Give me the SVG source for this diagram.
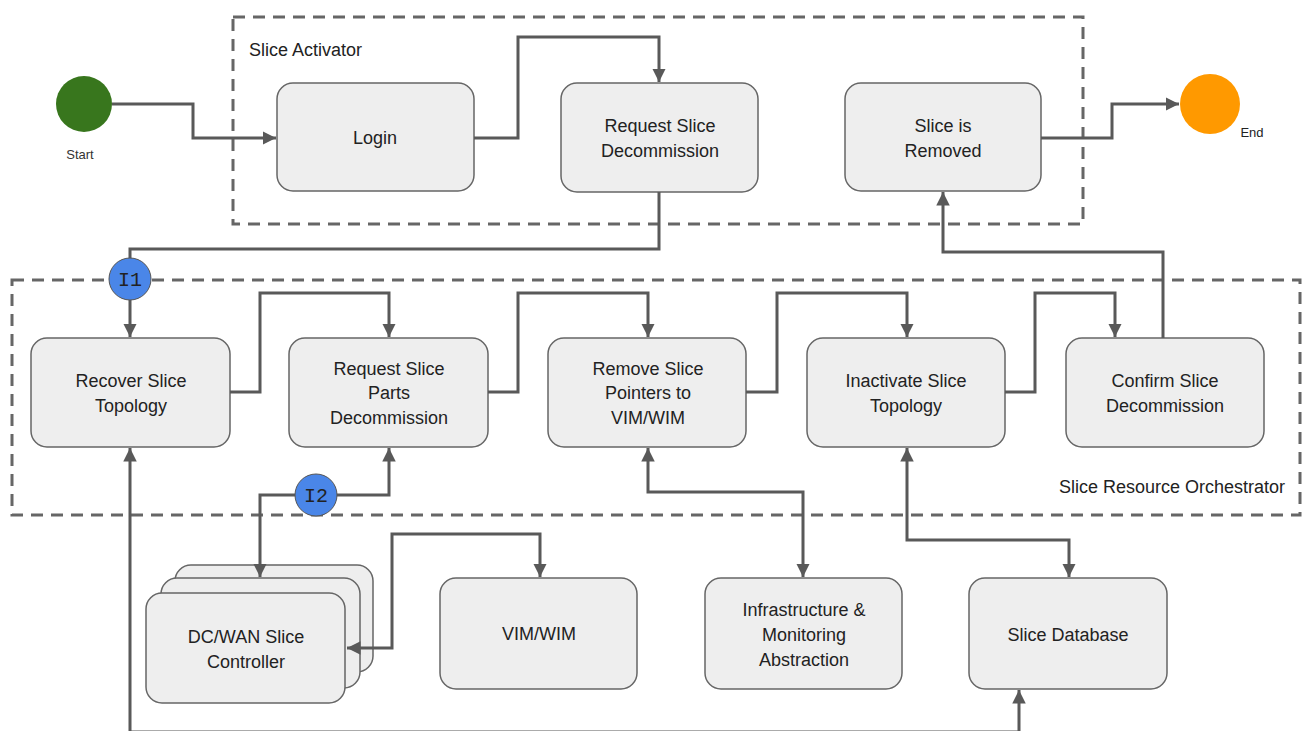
<svg xmlns="http://www.w3.org/2000/svg" width="1310" height="731" viewBox="0 0 1310 731">
<style>
.node rect{fill:#eeeeee;stroke:#666666;stroke-width:1.5}
.node text,.lbl{font-family:"Liberation Sans",Arial,sans-serif;font-size:18px;fill:#222222;text-anchor:middle}
.cont{fill:none;stroke:#666666;stroke-width:3;stroke-dasharray:12 8}
.conn path{fill:none;stroke:#595959;stroke-width:3}
.iface circle{fill:#4a86e8;stroke:#555555;stroke-width:1}
.iface text{font-family:"Liberation Mono","DejaVu Sans Mono",monospace;font-size:20px;fill:#222222;text-anchor:middle}
</style>
<defs>
<marker id="ah" viewBox="0 0 10 10" refX="10" refY="5" markerWidth="4.5" markerHeight="4.5" orient="auto-start-reverse" markerUnits="strokeWidth">
<path d="M0,0 L10,5 L0,10 z" fill="#595959"/>
</marker>
</defs>
<rect width="1310" height="731" fill="#ffffff"/>
<g id="containers">
<rect class="cont" x="233" y="17" width="850" height="207"/>
<text class="lbl" x="249" y="56" style="text-anchor:start">Slice Activator</text>
<rect class="cont" x="12" y="280" width="1288" height="235"/>
<text class="lbl" x="1285" y="493" style="text-anchor:end">Slice Resource Orchestrator</text>
</g>
<g id="start">
<circle cx="84" cy="104" r="28" fill="#38761d"/>
<text x="80" y="159" style="font-family:'Liberation Sans',Arial,sans-serif;font-size:13px;fill:#333333;text-anchor:middle">Start</text>
</g>
<g id="end">
<circle cx="1210" cy="104" r="30" fill="#ff9900"/>
<text x="1252" y="137" style="font-family:'Liberation Sans',Arial,sans-serif;font-size:13px;fill:#222222;text-anchor:middle">End</text>
</g>
<g class="node" id="login"><rect x="277" y="83" width="197" height="108" rx="16"/><text x="375" y="144">Login</text></g>
<g class="node" id="req-decom"><rect x="561" y="83" width="197" height="109" rx="16"/><text x="660" y="132">Request Slice</text><text x="660" y="157">Decommission</text></g>
<g class="node" id="removed"><rect x="845" y="83" width="196" height="108" rx="16"/><text x="943" y="132">Slice is</text><text x="943" y="157">Removed</text></g>
<g class="node" id="recover"><rect x="31" y="338" width="199" height="109" rx="16"/><text x="131" y="387">Recover Slice</text><text x="131" y="412">Topology</text></g>
<g class="node" id="req-parts"><rect x="289" y="338" width="199" height="109" rx="16"/><text x="389" y="375">Request Slice</text><text x="389" y="399">Parts</text><text x="389" y="424">Decommission</text></g>
<g class="node" id="remove-ptr"><rect x="548" y="338" width="198" height="109" rx="16"/><text x="648" y="375">Remove Slice</text><text x="648" y="399">Pointers to</text><text x="648" y="424">VIM/WIM</text></g>
<g class="node" id="inactivate"><rect x="807" y="338" width="198" height="109" rx="16"/><text x="906" y="387">Inactivate Slice</text><text x="906" y="412">Topology</text></g>
<g class="node" id="confirm"><rect x="1066" y="338" width="198" height="109" rx="16"/><text x="1165" y="387">Confirm Slice</text><text x="1165" y="412">Decommission</text></g>
<g class="node" id="dcwan">
<rect x="175" y="565" width="198" height="107" rx="16"/>
<rect x="161" y="578" width="199" height="110" rx="16"/>
<rect x="146" y="593" width="199" height="110" rx="16"/>
<text x="246" y="643">DC/WAN Slice</text><text x="246" y="668">Controller</text>
</g>
<g class="node" id="vimwim"><rect x="440" y="578" width="197" height="111" rx="16"/><text x="539" y="640">VIM/WIM</text></g>
<g class="node" id="infra"><rect x="705" y="578" width="197" height="111" rx="16"/><text x="804" y="616">Infrastructure &amp;</text><text x="804" y="641">Monitoring</text><text x="804" y="666">Abstraction</text></g>
<g class="node" id="db"><rect x="969" y="578" width="198" height="111" rx="16"/><text x="1068" y="641">Slice Database</text></g>
<g class="conn" id="connectors">
<path d="M112,104 H193 V138 H276" marker-end="url(#ah)"/>
<path d="M474,138 H518 V37 H659 V82" marker-end="url(#ah)"/>
<path d="M659,192 V249 H130 V337" marker-end="url(#ah)"/>
<path d="M1041,138 H1112 V104 H1179" marker-end="url(#ah)"/>
<path d="M1163,338 V252 H943 V192" marker-end="url(#ah)"/>
<path d="M230,392 H260 V293 H389 V337" marker-end="url(#ah)"/>
<path d="M488,392 H518 V293 H648 V337" marker-end="url(#ah)"/>
<path d="M746,392 H777 V293 H907 V337" marker-end="url(#ah)"/>
<path d="M1005,392 H1035 V293 H1115 V337" marker-end="url(#ah)"/>
<path d="M389,448 V495 H260 V577" marker-start="url(#ah)" marker-end="url(#ah)"/>
<path d="M347,648 H392 V534 H540 V577" marker-start="url(#ah)" marker-end="url(#ah)"/>
<path d="M648,448 V492 H803 V577" marker-start="url(#ah)" marker-end="url(#ah)"/>
<path d="M907,448 V540 H1069 V577" marker-start="url(#ah)" marker-end="url(#ah)"/>
<path d="M130,448 V732 H1019 V690" marker-start="url(#ah)" marker-end="url(#ah)"/>
</g>
<g class="iface" id="i1"><circle cx="130" cy="279" r="21"/><text x="130" y="286">I1</text></g>
<g class="iface" id="i2"><circle cx="316" cy="495" r="21"/><text x="316" y="502">I2</text></g>
</svg>
